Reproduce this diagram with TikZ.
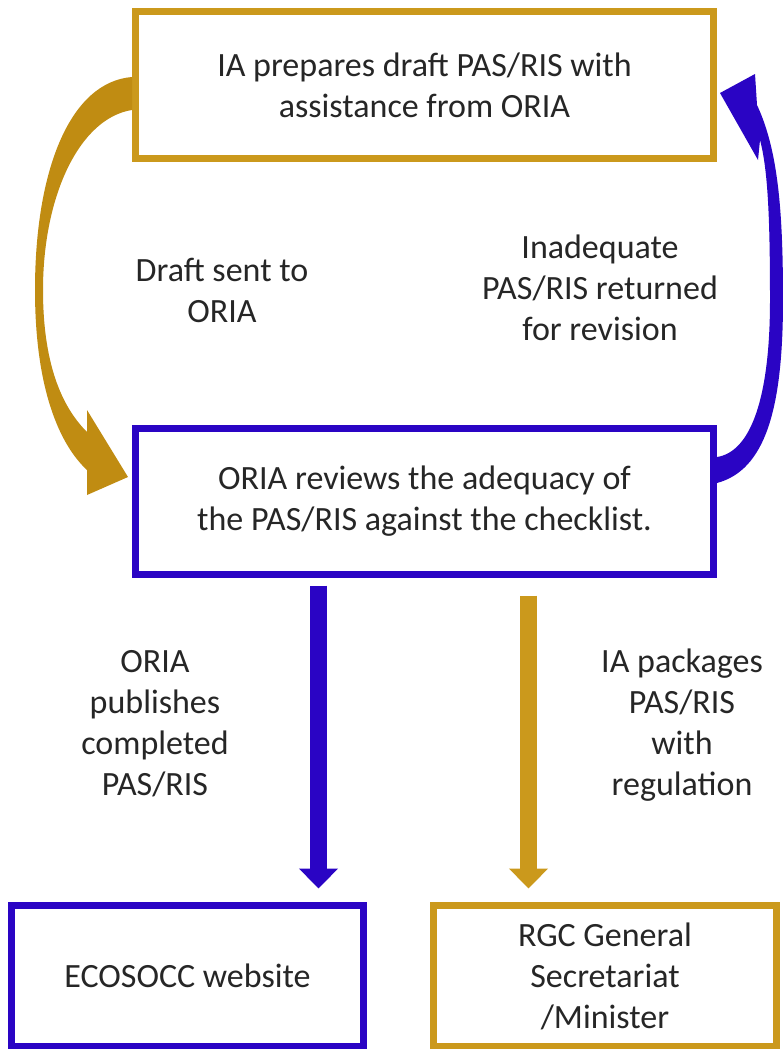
\documentclass[tikz,border=0pt]{standalone}
\usepackage{fontspec}
\setmainfont{Carlito}
\usetikzlibrary{arrows.meta}
\definecolor{boxgold}{RGB}{203,153,28}
\definecolor{curvegold}{RGB}{192,140,18}
\definecolor{boxblue}{RGB}{42,4,196}
\definecolor{txtgray}{RGB}{38,38,38}

\begin{document}
\begin{tikzpicture}[x=1pt, y=-1pt,
  every node/.style={font=\fontsize{34}{41}\selectfont, text=txtgray},
  stagebox/.style={draw, line width=7pt, fill=white, inner sep=0pt, align=center},
  downarrow/.style={line width=17pt, -{Triangle[width=38pt,length=20pt]}}]
  \useasboundingbox (0,0) rectangle (783,1049);

  % Boxes
  \node[stagebox, draw=boxgold, minimum width=578pt, minimum height=147pt] (draft) at (424.5,85)
    {IA prepares draft PAS/RIS with\\assistance from ORIA};
  \node[stagebox, draw=boxblue, minimum width=578pt, minimum height=146pt] (review) at (424.5,501.5)
    {ORIA reviews the adequacy of\\the PAS/RIS against the checklist.};
  \node[stagebox, draw=boxblue, minimum width=352pt, minimum height=141pt] (web) at (187.5,976)
    {ECOSOCC website};
  \node[stagebox, draw=boxgold, minimum width=343pt, minimum height=141pt] (rgc) at (605,976)
    {RGC General\\Secretariat\\/Minister};

  % Curved arrow: draft sent to ORIA
  \fill[curvegold] ([yshift=8pt]draft.west)
    .. controls (70,82) and (35,170) .. (35,290)
    .. controls (35,390) and (60,445) .. (87,470)
    -- (87,495) -- ([xshift=-4pt,yshift=24.5pt]review.west) -- (87,410) -- (87,432)
    .. controls (65,410) and (43,370) .. (43,290)
    .. controls (43,195) and (80,118) .. ([yshift=-25pt]draft.west) -- cycle;

  % Curved arrow: returned for revision
  \fill[boxblue] ([yshift=18.5pt]review.east)
    .. controls (765,470) and (783,410) .. (783,300)
    .. controls (783,210) and (778,150) .. (757,105)
    -- (755,74) -- ([xshift=3pt,yshift=-8pt]draft.east) -- (758,160) -- (760,140)
    .. controls (768,170) and (770,220) .. (770,300)
    .. controls (770,400) and (750,452) .. ([yshift=44.5pt]review.east) -- cycle;

  % Straight arrows
  \draw[downarrow, boxblue] ([xshift=-106pt,yshift=-7.5pt]review.south) -- ([xshift=131pt,yshift=13.5pt]web.north);
  \draw[downarrow, boxgold] ([xshift=104pt,yshift=-17.5pt]review.south) -- ([xshift=-76.5pt,yshift=13.5pt]rgc.north);

  % Labels
  \node[align=center] (sentlbl) at (222,290) {Draft sent to\\ORIA};
  \node[align=center] (retlbl) at (600,288) {Inadequate\\PAS/RIS returned\\for revision};
  \node[align=center] (publbl) at (155,724) {ORIA\\publishes\\completed\\PAS/RIS};
  \node[align=center] (pkglbl) at (682,725) {IA packages\\PAS/RIS\\with\\regulation};
\end{tikzpicture}
\end{document}
